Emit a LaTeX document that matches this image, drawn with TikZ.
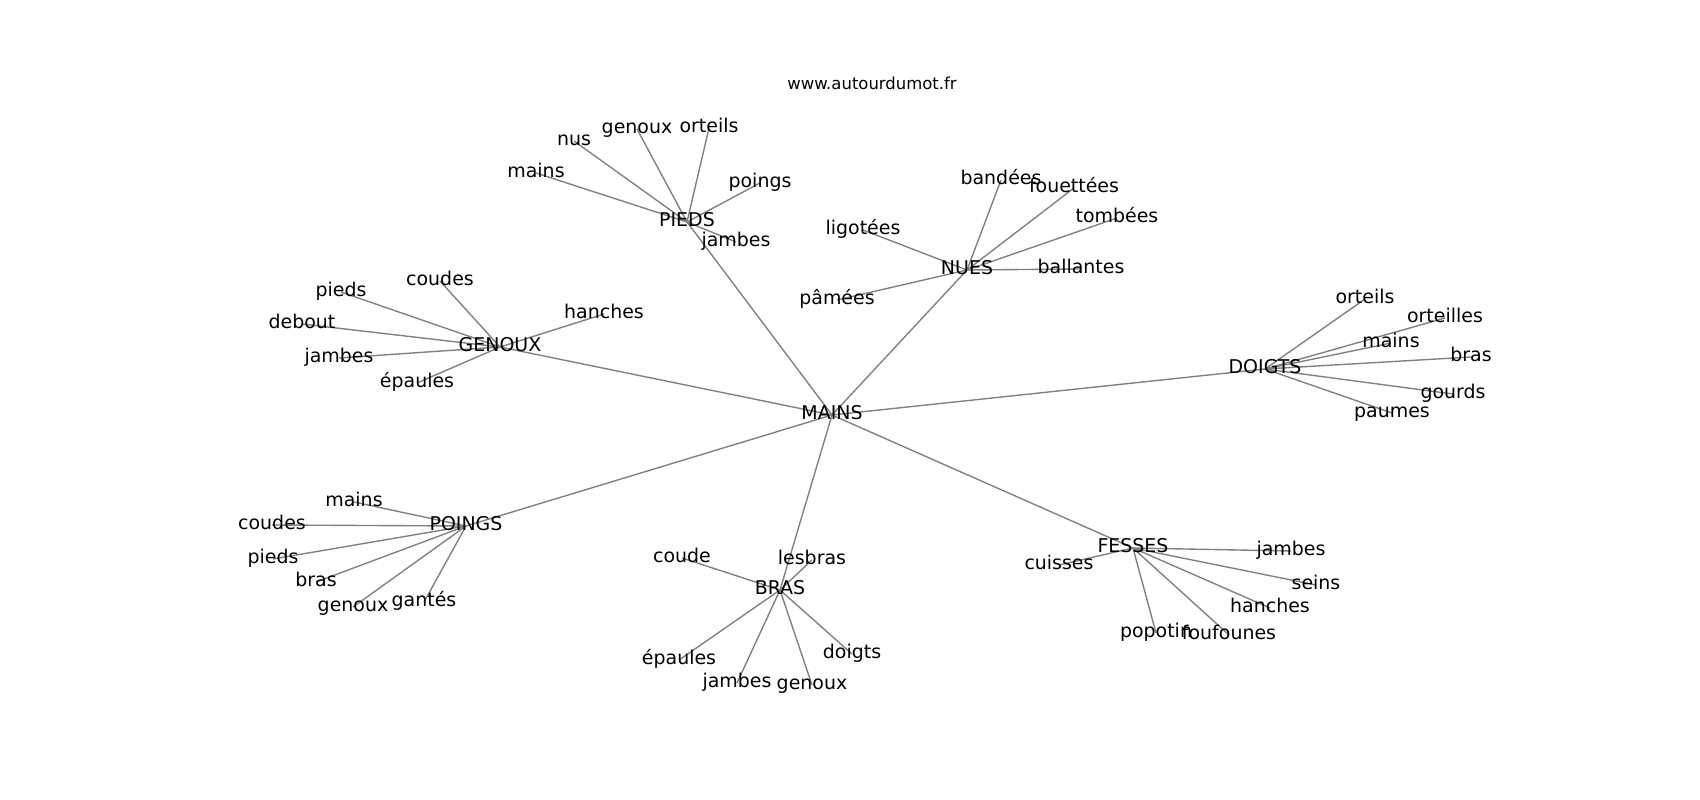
\documentclass[tikz,border=0pt]{standalone}
\usepackage{fontspec}
\setmainfont{DejaVu Sans}
\usepackage{tikz}
\usetikzlibrary{backgrounds}

\tikzset{
    word/.style={
        inner sep=0pt,
        text height=10.4pt,
        text depth=3.3pt,
        font=\fontsize{13.7}{16}\selectfont
    },
    link/.style={
        line width=1pt,
        color=black!50
    }
}

\begin{document}
\begin{tikzpicture}[x=0.254mm, y=-0.254mm]
                \useasboundingbox (0,-2) rectangle (1700,798);

                \node[anchor=base, inner sep=0pt, font=\fontsize{11.9}{14}\selectfont] (site) at (872,87) {www.autourdumot.fr};

                % hubs
                \node[word] (mains) at (832,413) {MAINS};
                \node[word] (pieds) at (687,220) {PIEDS};
                \node[word] (nues) at (967,268) {NUES};
                \node[word] (genoux) at (500,345) {GENOUX};
                \node[word] (doigts) at (1265,367) {DOIGTS};
                \node[word] (poings) at (466,524) {POINGS};
                \node[word] (bras) at (780,588) {BRAS};
                \node[word] (fesses) at (1133,546) {FESSES};

                % pieds
                \node[word] (pieds-mains) at (536,171) {mains};
                \node[word] (pieds-nus) at (574,139) {nus};
                \node[word] (pieds-genoux) at (637,127) {genoux};
                \node[word] (pieds-orteils) at (709,126) {orteils};
                \node[word] (pieds-poings) at (760,181) {poings};
                \node[word] (pieds-jambes) at (736,240) {jambes};

                % nues
                \node[word] (nues-bandees) at (1001,178) {bandées};
                \node[word] (nues-fouettees) at (1074,186) {fouettées};
                \node[word] (nues-tombees) at (1117,216) {tombées};
                \node[word] (nues-ligotees) at (863,228) {ligotées};
                \node[word] (nues-ballantes) at (1081,267) {ballantes};
                \node[word] (nues-pamees) at (837,298) {pâmées};

                % genoux
                \node[word] (genoux-coudes) at (440,279) {coudes};
                \node[word] (genoux-pieds) at (341,290) {pieds};
                \node[word] (genoux-debout) at (302,322) {debout};
                \node[word] (genoux-jambes) at (339,356) {jambes};
                \node[word] (genoux-epaules) at (417,381) {épaules};
                \node[word] (genoux-hanches) at (604,312) {hanches};

                % doigts
                \node[word] (doigts-orteils) at (1365,297) {orteils};
                \node[word] (doigts-orteilles) at (1445,316) {orteilles};
                \node[word] (doigts-mains) at (1391,341) {mains};
                \node[word] (doigts-bras) at (1471,355) {bras};
                \node[word] (doigts-gourds) at (1453,392) {gourds};
                \node[word] (doigts-paumes) at (1392,411) {paumes};

                % poings
                \node[word] (poings-mains) at (354,500) {mains};
                \node[word] (poings-coudes) at (272,523) {coudes};
                \node[word] (poings-pieds) at (273,557) {pieds};
                \node[word] (poings-bras) at (316,580) {bras};
                \node[word] (poings-genoux) at (353,605) {genoux};
                \node[word] (poings-gantes) at (424,600) {gantés};

                % bras
                \node[word] (bras-coude) at (682,556) {coude};
                \node[word] (bras-lesbras) at (812,558) {lesbras};
                \node[word] (bras-epaules) at (679,658) {épaules};
                \node[word] (bras-jambes) at (737,681) {jambes};
                \node[word] (bras-genoux) at (812,683) {genoux};
                \node[word] (bras-doigts) at (852,652) {doigts};

                % fesses
                \node[word] (fesses-cuisses) at (1059,563) {cuisses};
                \node[word] (fesses-jambes) at (1291,549) {jambes};
                \node[word] (fesses-seins) at (1316,583) {seins};
                \node[word] (fesses-hanches) at (1270,606) {hanches};
                \node[word] (fesses-popotin) at (1156,631) {popotin};
                \node[word] (fesses-foufounes) at (1229,633) {foufounes};

                \begin{pgfonlayer}{background}
                \draw[link] (mains.center) -- (pieds.center);
                \draw[link] (mains.center) -- (nues.center);
                \draw[link] (mains.center) -- (genoux.center);
                \draw[link] (mains.center) -- (doigts.center);
                \draw[link] (mains.center) -- (poings.center);
                \draw[link] (mains.center) -- (bras.center);
                \draw[link] (mains.center) -- (fesses.center);

                \draw[link] (pieds.center) -- (pieds-mains.center);
                \draw[link] (pieds.center) -- (pieds-nus.center);
                \draw[link] (pieds.center) -- (pieds-genoux.center);
                \draw[link] (pieds.center) -- (pieds-orteils.center);
                \draw[link] (pieds.center) -- (pieds-poings.center);
                \draw[link] (pieds.center) -- (pieds-jambes.center);

                \draw[link] (nues.center) -- (nues-bandees.center);
                \draw[link] (nues.center) -- (nues-fouettees.center);
                \draw[link] (nues.center) -- (nues-tombees.center);
                \draw[link] (nues.center) -- (nues-ligotees.center);
                \draw[link] (nues.center) -- (nues-ballantes.center);
                \draw[link] (nues.center) -- (nues-pamees.center);

                \draw[link] (genoux.center) -- (genoux-coudes.center);
                \draw[link] (genoux.center) -- (genoux-pieds.center);
                \draw[link] (genoux.center) -- (genoux-debout.center);
                \draw[link] (genoux.center) -- (genoux-jambes.center);
                \draw[link] (genoux.center) -- (genoux-epaules.center);
                \draw[link] (genoux.center) -- (genoux-hanches.center);

                \draw[link] (doigts.center) -- (doigts-orteils.center);
                \draw[link] (doigts.center) -- (doigts-orteilles.center);
                \draw[link] (doigts.center) -- (doigts-mains.center);
                \draw[link] (doigts.center) -- (doigts-bras.center);
                \draw[link] (doigts.center) -- (doigts-gourds.center);
                \draw[link] (doigts.center) -- (doigts-paumes.center);

                \draw[link] (poings.center) -- (poings-mains.center);
                \draw[link] (poings.center) -- (poings-coudes.center);
                \draw[link] (poings.center) -- (poings-pieds.center);
                \draw[link] (poings.center) -- (poings-bras.center);
                \draw[link] (poings.center) -- (poings-genoux.center);
                \draw[link] (poings.center) -- (poings-gantes.center);

                \draw[link] (bras.center) -- (bras-coude.center);
                \draw[link] (bras.center) -- (bras-lesbras.center);
                \draw[link] (bras.center) -- (bras-epaules.center);
                \draw[link] (bras.center) -- (bras-jambes.center);
                \draw[link] (bras.center) -- (bras-genoux.center);
                \draw[link] (bras.center) -- (bras-doigts.center);

                \draw[link] (fesses.center) -- (fesses-cuisses.center);
                \draw[link] (fesses.center) -- (fesses-jambes.center);
                \draw[link] (fesses.center) -- (fesses-seins.center);
                \draw[link] (fesses.center) -- (fesses-hanches.center);
                \draw[link] (fesses.center) -- (fesses-popotin.center);
                \draw[link] (fesses.center) -- (fesses-foufounes.center);
                \end{pgfonlayer}

            \end{tikzpicture}
\end{document}
